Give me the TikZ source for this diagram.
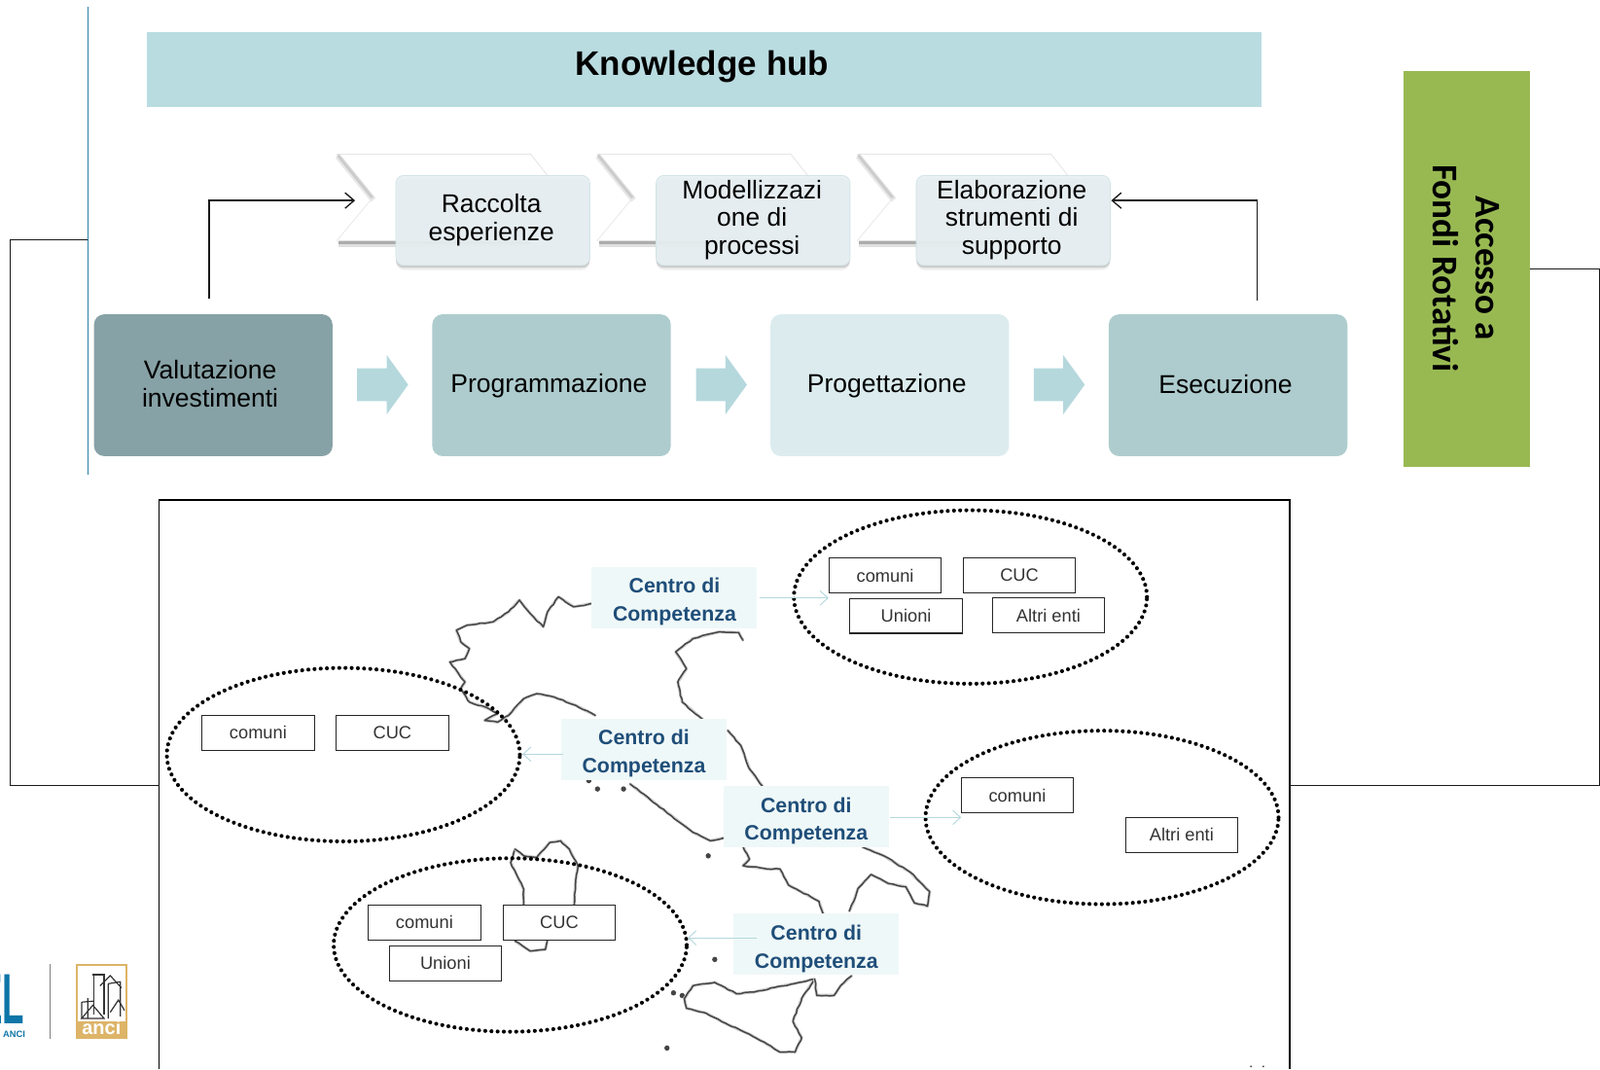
\documentclass[tikz,border=0pt]{standalone}
\usepackage{fontspec}
\setmainfont{Liberation Sans}
\newfontfamily\carl{Carlito}
\usetikzlibrary{arrows.meta,shapes.geometric,calc,decorations.pathmorphing}
\definecolor{hubc}{HTML}{B9DCE1}
\definecolor{greenc}{HTML}{98B952}
\definecolor{valc}{HTML}{87A2A6}
\definecolor{progc}{HTML}{AECCCE}
\definecolor{projc}{HTML}{DCECEE}
\definecolor{arrc}{HTML}{B5D8DD}
\definecolor{softc}{HTML}{E8F0F3}
\definecolor{softe}{HTML}{D3E4E8}
\definecolor{labc}{HTML}{EFF8F8}
\definecolor{labt}{HTML}{1F4E79}
\definecolor{mapc}{HTML}{454545}
\definecolor{tanc}{HTML}{DDB468}
\definecolor{bluec}{HTML}{0E76A8}
\definecolor{vline}{HTML}{2F7FA6}
\tikzset{
  stage/.style={rounded corners=8pt,minimum width=184pt,minimum height=109.4pt,inner sep=0pt},
  stagetext/.style={inner sep=0pt,align=center,font=\fontsize{19.9}{21.3}\selectfont},
  softbox/.style={rounded corners=6pt,draw=softe,line width=.6pt,fill=softc,fill opacity=.93,minimum width=149.5pt,minimum height=69.3pt,inner sep=0pt},
  softtext/.style={inner sep=0pt,align=center,font=\fontsize{19.8}{21.3}\selectfont},
  softshadow/.style={rounded corners=6pt,fill=gray,minimum width=149.5pt,minimum height=69.3pt,inner sep=0pt},
  small/.style={draw=black!85,line width=.8pt,fill=white,minimum width=86.6pt,minimum height=26.8pt,inner sep=0pt,text=black!80,font=\fontsize{13.7}{15}\selectfont},
  centro/.style={fill=labc,minimum width=127.5pt,minimum height=47.2pt,inner sep=0pt},
  centrotext/.style={inner sep=0pt,align=center,text=labt,font=\fontsize{16}{21.6}\selectfont\bfseries},
  dotell/.style={ellipse,draw=black,line width=3.1pt,line cap=round,dash pattern=on 0pt off 4.78pt,minimum width=272.3pt,minimum height=133.8pt,inner sep=0pt},
  link/.style={draw=black!90,line width=1pt},
  openarrow/.style={-{Straight Barb[length=7pt,width=12pt]}},
  lightarrow/.style={draw=arrc,line width=.7pt,-{Straight Barb[length=6pt,width=11pt]}},
  coast/.style={draw=mapc,line width=1.1pt,line join=round,line cap=round,decorate,decoration={random steps,segment length=3.4pt,amplitude=.5pt}},
  coastsoft/.style={draw=gray!40,line width=2.3pt,line join=round,line cap=round},
  isle/.style={fill=mapc,draw=none},
  bigarrow/.style={fill=arrc,draw=none},
}
\newcommand{\coastline}[1]{\draw[coastsoft] plot coordinates {#1};\draw[coast] plot coordinates {#1};}
\newcommand{\chevronshape}[1]{
  \begin{scope}[shift={(#1,0)}]
    \fill[white] (330,151) -- (520,151) -- (553,193) -- (520,236) -- (330,236) -- (365,193) -- cycle;
    \draw[gray!20,line width=.6pt] (330,151) -- (520,151) -- (553,193);
    \draw[gray!12,line width=.6pt] (553,193) -- (520,236);
    \draw[gray!18,line width=4.6pt] (331,153) -- (366,196);
    \draw[gray!40,line width=2.2pt] (331,152) -- (365,194);
    \draw[gray!18,line width=.6pt] (365,194) -- (330,236);
    \draw[gray!25,line width=5.4pt] (332,239) -- (520,239);
    \draw[gray!65,line width=2.6pt] (332,238) -- (520,238);
  \end{scope}
}
\begin{document}
\begin{tikzpicture}[x=0.787pt,y=-0.787pt]
\useasboundingbox (0,0) rectangle (1568,1047.6);
\clip (0,0) rectangle (1568,1047.6);
\fill[white] (0,0) rectangle (1568,1047.6);

% header
\draw[vline,line width=.8pt] (86,7) -- (86,465);
\node[fill=hubc,minimum width=859.4pt,minimum height=57.5pt,inner sep=0pt] (hub) at (690,68) {};
\node[inner sep=0pt,font=\fontsize{26.3}{28}\selectfont\bfseries] (hubt) at (688,65.5) {Knowledge hub};
\node[fill=greenc,minimum width=97.6pt,minimum height=305.4pt,inner sep=0pt] (green) at (1437,263.5) {};
\node[rotate=-90,align=center,font=\fontsize{27.9}{33.5}\selectfont\carl\bfseries] (greentext) at (1437,263) {Accesso a\\Fondi Rotativi};

% chevrons and process boxes
\chevronshape{0}
\chevronshape{255}
\chevronshape{510}
\foreach \cx/\nm in {483/sa,738/sb,993/sc}{
  \node[softshadow,opacity=.12] (\nm o) at (\cx,220.5) {};
  \node[softshadow,opacity=.3] (\nm) at (\cx,218.5) {};
}
\node[softbox] (s1) at (483,216) {};
\node[softbox] (s2) at (738,216) {};
\node[softbox] (s3) at (993,216) {};
\node[softtext] (s1t) at (481.5,215.5) {Raccolta\\esperienze};
\node[softtext] (s2t) at (737,215.5) {Modellizzazi\\one di\\processi};
\node[softtext] (s3t) at (991.5,215.5) {Elaborazione\\strumenti di\\supporto};

% stages
\node[stage,fill=valc] (v) at (209,377.5) {};
\node[stage,fill=progc] (pr) at (540.5,377.5) {};
\node[stage,fill=projc] (pj) at (872,377.5) {};
\node[stage,fill=progc] (es) at (1203.5,377.5) {};
\node[stagetext] (vt) at (206,376) {Valutazione\\investimenti};
\node[stagetext] (prt) at (538,378.5) {Programmazione};
\node[stagetext] (pjt) at (869,378.5) {Progettazione};
\node[stagetext] (est) at (1201,377) {Esecuzione};
\foreach \ax in {350,682,1013}
  \fill[bigarrow] (\ax,361) -- (\ax+29,361) -- (\ax+29,348) -- (\ax+50,377) -- (\ax+29,406) -- (\ax+29,393) -- (\ax,393) -- cycle;

% feedback connectors
\coordinate (vup) at (205,293);
\coordinate (esup) at (1232,295);
\coordinate (chevtip) at (348,196.5);
\coordinate (s3in) at (1089,196.5);
\draw[link,openarrow] (vup) |- (chevtip);
\draw[link,openarrow] (esup) |- (s3in);

% map
\begin{scope}[shift={(143,534)},x=0.3349pt,y=-0.2578pt]
  \coastline{(1028,175)(985,185)(950,155)(925,200)(915,245)(885,205)(860,165)(835,200)(800,230)(740,240)(715,255)(725,290)(745,310)(735,340)(700,350)(720,385)(735,410)(725,430)(745,470)(790,490)(810,505)(780,525)(810,530)(835,510)(870,460)(900,445)(940,455)(990,480)(1035,510)}
  \coastline{(1375,285)(1365,262)(1320,260)(1260,280)(1220,320)(1245,370)(1225,410)(1235,470)(1285,525)}
  \coastline{(1340,555)(1370,600)(1390,670)(1420,722)}
  \coastline{(1115,715)(1160,760)(1210,810)(1260,860)(1300,885)(1335,875)}
  \coastline{(850,910)(840,950)(855,990)(870,1030)(870,1085)}
  \coastline{(985,1085)(990,1000)(995,960)(975,910)(955,885)(930,890)(900,935)(870,930)(850,910)}
  \coastline{(850,1185)(885,1215)(920,1210)(925,1180)}
  \foreach \dx/\dy in {1040/730,1100/730,1020/705,1295/930,1310/1240,1200/1505,1215/1340,1235/1348}
    \fill[isle] (\dx,\dy) ellipse[x radius=6,y radius=8];
\end{scope}
\begin{scope}[shift={(619.6,686.3)},x=0.3349pt,y=-0.25pt]
  \coastline{(530,452)(580,480)(640,530)(685,590)(680,635)(650,625)(630,575)(590,565)(550,537)(520,580)(510,620)(500,650)}
  \coastline{(255,450)(270,490)(255,510)(310,520)(340,520)(360,570)(410,605)(430,620)(440,660)}
  \coastline{(140,880)(120,920)(125,950)(170,965)(220,1000)(270,1030)(310,1060)(340,1085)(375,1085)(390,1040)(370,990)(390,920)(420,860)(385,870)(330,885)(280,900)(240,905)(190,870)(140,880)}
  \coastline{(420,860)(425,910)(465,910)(480,880)(505,850)}
\end{scope}

% frame and side connectors
\draw[black,line width=1.1pt] (156,1047.6) -- (156,490) -- (1264,490) -- (1264,1047.6);
\coordinate (framel) at (156,770);
\coordinate (framer) at (1264,770);
\coordinate (greenr) at (1499,263.5);
\coordinate (vlinel) at (86,235);
\draw[link] (vlinel) -- (10,235) -- (10,770) -- (framel);
\draw[link] (greenr) -- (1567.5,263.5) -- (1567.5,770) -- (framer);

% dotted ellipses
\node[dotell] (e1) at (951,585) {};
\node[dotell] (e2) at (336.5,739.5) {};
\node[dotell] (e3) at (1080,801) {};
\node[dotell] (e4) at (500,926) {};

% small boxes
\node[small] (e1a) at (867.5,564) {comuni};
\node[small] (e1b) at (999,564) {CUC};
\node[small] (e1c) at (888,603.5) {Unioni};
\node[small] (e1d) at (1027.5,603) {Altri enti};
\node[small] (e2a) at (253,718) {comuni};
\node[small] (e2b) at (384.5,718) {CUC};
\node[small] (e3a) at (997,779.5) {comuni};
\node[small] (e3b) at (1158,818) {Altri enti};
\node[small] (e4a) at (416,904) {comuni};
\node[small] (e4b) at (548,904) {CUC};
\node[small] (e4c) at (436.5,944) {Unioni};

% labels
\node[centro] (c1) at (661,585.5) {};
\node[centro] (c2) at (631,734) {};
\node[centro] (c3) at (790,800) {};
\node[centro] (c4) at (800,925) {};
\node[centrotext] (c1t) at (661,589.5) {Centro di\\Competenza};
\node[centrotext] (c2t) at (631,738.5) {Centro di\\Competenza};
\node[centrotext] (c3t) at (790,804.5) {Centro di\\Competenza};
\node[centrotext] (c4t) at (800,929.5) {Centro di\\Competenza};

\coordinate (c1o) at (744,586);
\coordinate (e1i) at (812,586);
\coordinate (c2o) at (552,739);
\coordinate (c3o) at (872,801);
\coordinate (e3i) at (942,801);
\coordinate (c4o) at (742,919);
\coordinate (e4o) at (674,919);
\coordinate (e2o) at (512,739);
\draw[lightarrow] (c1o) -- (e1i);
\draw[lightarrow] (c2o) -- (e2o);
\draw[lightarrow] (c3o) -- (e3i);
\draw[lightarrow] (c4o) -- (e4o);

\fill[black!70] (1226,1045) circle[radius=1] (1238,1045) circle[radius=1];

% logos
\node[anchor=base east,inner sep=0pt,text=bluec,font=\fontsize{55}{55}\selectfont\bfseries] (elp) at (24,1003) {\scalebox{.5}[1]{EL}};
\node[anchor=base east,inner sep=0pt,text=bluec,font=\fontsize{7}{8}\selectfont\bfseries] (elt) at (25,1017) {ANCI};
\draw[gray,line width=1pt] (49,945) -- (49,1018);
\draw[tanc,line width=1.8pt] (75.5,945.5) rectangle (124,1017);
\fill[tanc] (76,1001) rectangle (124,1017);
\node[inner sep=0pt,text=white,font=\fontsize{15}{15}\selectfont\bfseries] (ancit) at (99.5,1007) {anci};
\begin{scope}[black!80,line width=.9pt]
  \draw (106,998) -- (106,964) (118,996) -- (118,962) (106,964) -- (118,962);
  \draw (86,978) -- (86,998) (80,982) -- (92,981) (80,982) -- (80,998);
  \draw (92,955) -- (92,994) (102,955) -- (102,994) (91,955) -- (103,955);
  \draw (80,998) -- (91,985) -- (102,998) -- cycle;
  \draw (98,966) -- (108,956) -- (119,968);
  \draw (108,992) -- (116,980) -- (122,990);
\end{scope}
\end{tikzpicture}
\end{document}
